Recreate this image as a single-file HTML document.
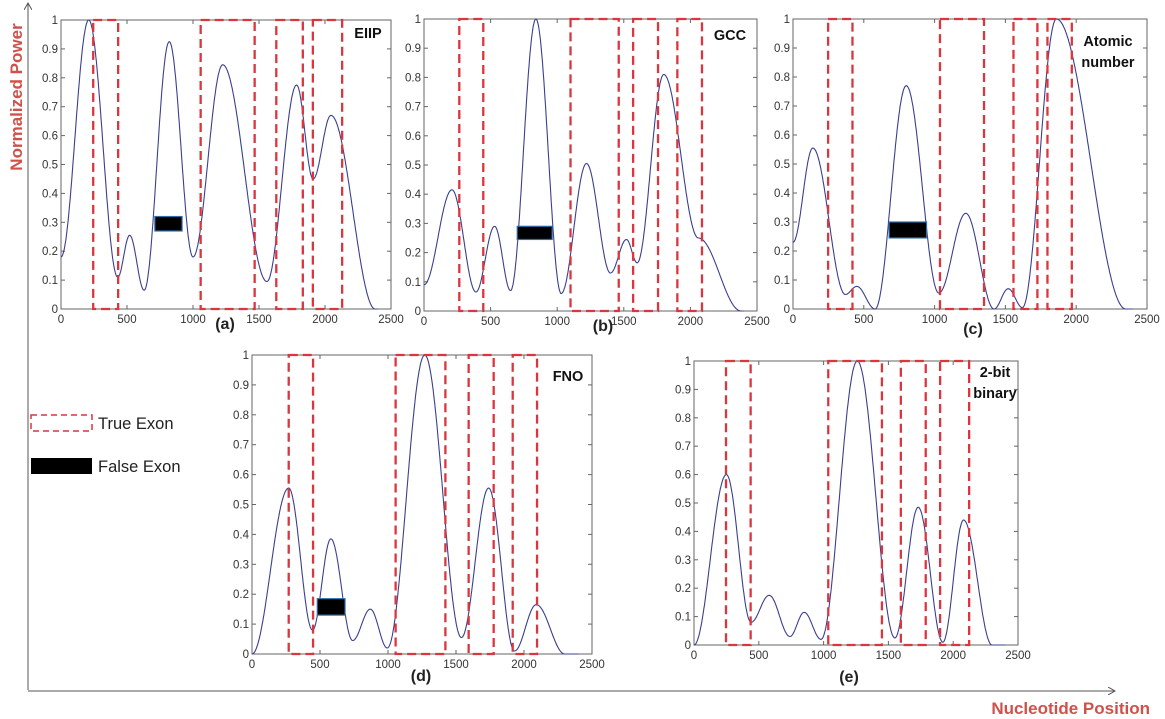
<!DOCTYPE html>
<html><head><meta charset="utf-8">
<style>
html,body{margin:0;padding:0;background:#fff;}
svg{display:block;font-family:"Liberation Sans",sans-serif;}
</style></head>
<body>
<svg id="fig" width="1165" height="719" viewBox="0 0 1165 719">
<defs><marker id="arr" markerWidth="8" markerHeight="8" refX="7" refY="4" orient="auto"><path d="M0,0 L7,4 L0,8" fill="none" stroke="#555" stroke-width="1"/></marker></defs>
<line x1="28" y1="690" x2="28" y2="3" stroke="#555" stroke-width="1" marker-end="url(#arr)"/>
<line x1="28" y1="691" x2="1115" y2="691" stroke="#555" stroke-width="1" marker-end="url(#arr)"/>
<text transform="translate(22,97) rotate(-90)" text-anchor="middle" font-size="17" font-weight="bold" fill="#d0504a">Normalized  Power</text>
<text x="1150" y="714" text-anchor="end" font-size="17" font-weight="bold" fill="#d0504a">Nucleotide Position</text>
<g>
<rect x="31" y="415" width="61" height="16" fill="none" stroke="#d9363e" stroke-width="1.5" stroke-dasharray="6 4"/>
<text x="98" y="429" font-size="16.5" fill="#222">True Exon</text>
<rect x="31" y="458" width="61" height="16" fill="#000"/>
<text x="98" y="472" font-size="16.5" fill="#222">False  Exon</text>
</g>
<g id="panels"></g>
</svg>
<script>
// ---- data ----
const xTicks = [0,500,1000,1500,2000,2500];
const yTicks = [0,0.1,0.2,0.3,0.4,0.5,0.6,0.7,0.8,0.9,1];
const yTickLabels = ["0","0.1","0.2","0.3","0.4","0.5","0.6","0.7","0.8","0.9","1"];
const aX = [0,210,430,520,630,820,1000,1225,1560,1785,1910,2045,2380,2400];
const aY = [0.18,1.0,0.11,0.255,0.065,0.925,0.18,0.845,0.095,0.775,0.45,0.67,0.0,0.0];
const bX = [0,210,390,530,650,840,1030,1220,1400,1520,1600,1800,2060,2380,2400];
const bY = [0.09,0.415,0.065,0.29,0.07,1.0,0.06,0.505,0.13,0.245,0.165,0.81,0.25,0.0,0.0];
const cX = [0,140,370,450,580,800,1030,1220,1420,1520,1620,1860,2350,2400];
const cY = [0.23,0.555,0.05,0.078,0.0,0.77,0.055,0.33,0.0,0.07,0.005,1.0,0.0,0.0];
const dX = [0,270,445,580,740,870,995,1270,1540,1740,1930,2090,2300,2400];
const dY = [0.0,0.555,0.08,0.385,0.045,0.15,0.02,1.0,0.055,0.555,0.01,0.165,0.0,0.0];
const eX = [0,250,440,580,740,850,980,1260,1550,1730,1920,2080,2300,2400];
const eY = [0.0,0.6,0.08,0.175,0.03,0.115,0.02,1.0,0.025,0.485,0.01,0.44,0.0,0.0];
const aExons = [[244,433],[1058,1467],[1631,1832],[1908,2130]];
const bExons = [[265,445],[1100,1462],[1570,1757],[1902,2087]];
const cExons = [[248,420],[1038,1349],[1557,1726],[1797,1969]];
const dExons = [[270,449],[1056,1422],[1593,1777],[1917,2096]];
const eExons = [[247,437],[1036,1450],[1596,1788],[1899,2123]];
const aFalse = [711,917,0.27,0.32];
const bFalse = [700,962,0.245,0.29];
const cFalse = [679,943,0.245,0.30];
const dFalse = [480,684,0.13,0.185];

const panels = [
 {id:'a',box:[61,391,20,309],xs:aX,ys:aY,ex:aExons,fx:aFalse,tag:'(a)',tagPos:[225,329],lab:['EIIP'],labPos:[368,38]},
 {id:'b',box:[424,757,19,311],xs:bX,ys:bY,ex:bExons,fx:bFalse,tag:'(b)',tagPos:[603,331],lab:['GCC'],labPos:[730,40]},
 {id:'c',box:[793,1147,19,309],xs:cX,ys:cY,ex:cExons,fx:cFalse,tag:'(c)',tagPos:[973,334],lab:['Atomic','number'],labPos:[1108,46]},
 {id:'d',box:[252,592,355,654],xs:dX,ys:dY,ex:dExons,fx:dFalse,tag:'(d)',tagPos:[421,681],lab:['FNO'],labPos:[568,381]},
 {id:'e',box:[694,1018,361,645],xs:eX,ys:eY,ex:eExons,fx:null,tag:'(e)',tagPos:[849,682],lab:['2-bit','binary'],labPos:[995,377]}
];
const NS='http://www.w3.org/2000/svg';
function mk(tag,attrs,parent){const e=document.createElementNS(NS,tag);for(const k in attrs)e.setAttribute(k,attrs[k]);parent.appendChild(e);return e;}
function cosInterp(xs,ys){
  const n=xs.length;
  return function(x){
    let i=0;while(i<n-2&&x>xs[i+1])i++;
    const t=Math.min(1,Math.max(0,(x-xs[i])/(xs[i+1]-xs[i])));
    return ys[i]+(ys[i+1]-ys[i])*(1-Math.cos(Math.PI*t))/2;
  };
}
const root=document.getElementById('panels');
panels.forEach(p=>{
  const [L,R,T,B]=p.box;
  const sx=v=>L+(v/2500)*(R-L), sy=v=>B-v*(B-T);
  const g=mk('g',{},root);
  
  
  const frame=mk('rect',{x:L,y:T,width:R-L,height:B-T,fill:'none',stroke:'#666','stroke-width':1},g);
  
  
  xTicks.forEach(t=>{
    const x=sx(t);
    mk('line',{x1:x,y1:B,x2:x,y2:B-4,stroke:'#666'},g);
    mk('line',{x1:x,y1:T,x2:x,y2:T+4,stroke:'#666'},g);
    const tx=mk('text',{x:x,y:B+14,'text-anchor':'middle','font-size':11.5,fill:'#333'},g);
    tx.textContent=t;
    
    
  });
  yTicks.forEach((t,i)=>{
    const y=sy(t);
    mk('line',{x1:L,y1:y,x2:L+4,y2:y,stroke:'#666'},g);
    mk('line',{x1:R,y1:y,x2:R-4,y2:y,stroke:'#666'},g);
    const ty=mk('text',{x:L-3,y:y+4,'text-anchor':'end','font-size':11.5,fill:'#333'},g);
    ty.textContent=yTickLabels[i];
    
    
  });
  const f=cosInterp(p.xs,p.ys);
  let d='';
  for(let x=0;x<=p.xs[p.xs.length-1];x+=4){d+=(x?'L':'M')+sx(x).toFixed(1)+','+sy(Math.max(0,f(x))).toFixed(1);}
  const line=mk('path',{d:d,fill:'none',stroke:'#3a3f8f','stroke-width':1.1},g);
  
  
  p.ex.forEach(e=>{
    const r=mk('rect',{x:sx(e[0]),y:T,width:sx(e[1])-sx(e[0]),height:B-T,fill:'none',stroke:'#d9363e','stroke-width':2.3,'stroke-dasharray':'9 5'},g);
    
    
  });
  if(p.fx){
    const r=mk('rect',{x:sx(p.fx[0]),y:sy(p.fx[3]),width:sx(p.fx[1])-sx(p.fx[0]),height:sy(p.fx[2])-sy(p.fx[3]),fill:'#000',stroke:'#2d6ea6','stroke-width':1.2},g);
    
    
  }
  const tg=mk('text',{x:p.tagPos[0],y:p.tagPos[1],'text-anchor':'middle','font-size':16,'font-weight':'bold',fill:'#222'},g);
  tg.textContent=p.tag;
  
  
  p.lab.forEach((s,i)=>{
    const t=mk('text',{x:p.labPos[0],y:p.labPos[1]+i*21,'text-anchor':'middle','font-size':14.5,'font-weight':'bold',fill:'#111'},g);
    t.textContent=s;
    
    
  });
});
</script>
</body></html>
